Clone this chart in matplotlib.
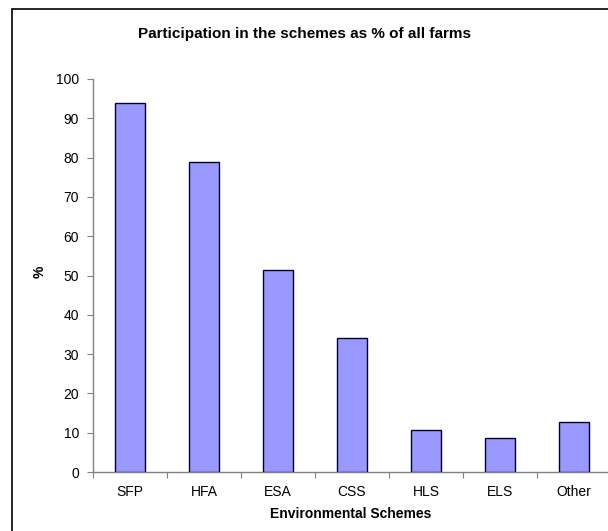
import numpy as np
from matplotlib import pyplot as plt
from matplotlib.patches import Rectangle

schemes = ['SFP', 'HFA', 'ESA', 'CSS', 'HLS', 'ELS', 'Other']
percent = [93.8, 79.0, 51.3, 34.2, 10.7, 8.6, 12.6]
yticks = list(range(0, 101, 10))

plt.rcParams['font.family'] = ['Liberation Sans', 'DejaVu Sans']

W, H = 608, 531
fig = plt.figure(figsize=(W / 100, H / 100), dpi=100)

# chart area border (runs off right and bottom of the image)
fig.add_artist(Rectangle((12 / W, -0.1), 1.2, 1.1 - 9 / H, transform=fig.transFigure,
                         fill=False, edgecolor='black', linewidth=1.2))

ax = fig.add_axes([93 / W, 1 - 472 / H, 518 / W, (472 - 79) / H])
x = np.arange(len(schemes))
ax.bar(x, percent, width=0.4, color='#9999FF', edgecolor='#000033', linewidth=1.0, zorder=3)

ax.set_xlim(-0.5, len(schemes) - 0.5)
ax.set_ylim(0, 100)
ax.set_yticks(yticks)
ax.set_yticklabels([str(v) for v in yticks], fontsize=10)

# categories labelled in the middle, ticks between them
ax.set_xticks(np.arange(len(schemes) + 1) - 0.5)
ax.set_xticklabels([])
ax.set_xticks(x, minor=True)
ax.set_xticklabels(schemes, minor=True, fontsize=10)
ax.tick_params(axis='x', which='minor', length=0, pad=9)
ax.tick_params(axis='x', which='major', length=4, color='#808080', direction='out')
ax.tick_params(axis='y', length=4, color='#808080', direction='out', pad=6)

for s in ['top', 'right']:
    ax.spines[s].set_visible(False)
for s in ['left', 'bottom']:
    ax.spines[s].set_color('#808080')
    ax.spines[s].set_linewidth(1.0)

fig.text(305 / W, 1 - 34 / H, 'Participation in the schemes as % of all farms',
         ha='center', va='center', fontsize=11, fontweight='bold')
fig.text(40 / W, 1 - 272 / H, '%', ha='center', va='center', rotation=90,
         fontsize=10, fontweight='bold')
fig.text(351 / W, 1 - 514 / H, 'Environmental Schemes', ha='center', va='center',
         fontsize=10, fontweight='bold')

fig.savefig('out.png', dpi=100)
